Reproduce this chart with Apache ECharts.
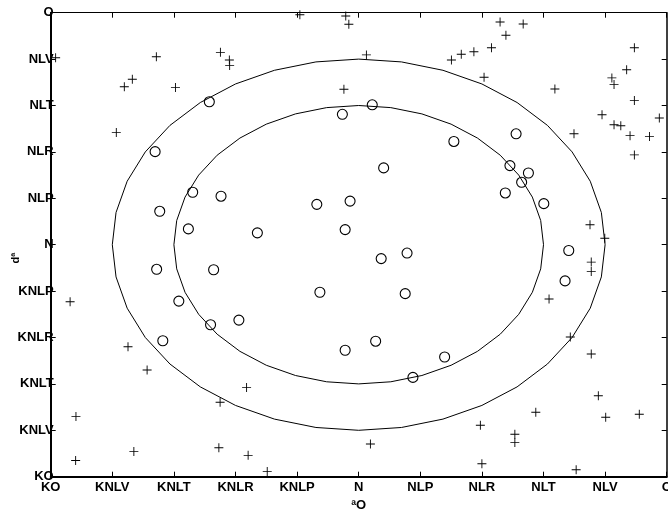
<!DOCTYPE html>
<html><head><meta charset="utf-8">
<script src="https://cdn.jsdelivr.net/npm/echarts@6/dist/echarts.min.js"></script>
<style>html,body{margin:0;padding:0;background:#fff}#c{width:668px;height:510px}</style>
</head><body><div id="c"></div>
<script>
// tick labels (as shown in the reference)
const tickLabels = ['KO','KNLV','KNLT','KNLR','KNLP','N','NLP','NLR','NLT','NLV','O'];
const xName = 'ªO';
const yName = 'dª';

// circle markers
const circleX = [-0.485,0.044,-0.053,-0.661,0.309,0.511,0.081,0.491,0.551,0.529,-0.539,-0.447,0.476,-0.136,-0.028,0.601,-0.646,-0.553,-0.044,-0.329,0.682,0.157,0.073,-0.656,-0.471,0.670,-0.126,0.151,-0.584,-0.389,-0.481,-0.636,0.055,-0.044,0.279,0.176];
const circleY = [0.616,0.603,0.562,0.401,0.445,0.478,0.331,0.341,0.309,0.269,0.226,0.209,0.223,0.174,0.188,0.177,0.144,0.068,0.065,0.051,-0.025,-0.036,-0.060,-0.106,-0.108,-0.156,-0.205,-0.211,-0.243,-0.325,-0.345,-0.414,-0.416,-0.455,-0.484,-0.572];

// plus markers
const plusX = [-0.984,-0.657,-0.449,-0.420,-0.419,-0.761,-0.735,-0.595,-0.787,
  -0.191,-0.042,-0.032,0.025,-0.048,
  0.301,0.333,0.374,0.431,0.459,0.534,0.478,0.407,0.637,0.699,0.895,0.870,0.822,0.829,0.895,0.976,0.790,0.829,0.851,0.881,0.944,0.895,
  0.751,0.799,0.755,0.755,0.618,0.687,0.755,
  0.778,0.575,0.802,0.911,0.395,0.507,0.507,0.400,0.706,
  0.038,-0.297,
  -0.937,-0.749,-0.687,-0.364,-0.450,-0.918,-0.730,-0.454,-0.359,-0.919];
const plusY = [0.806,0.810,0.829,0.796,0.772,0.681,0.713,0.678,0.484,
  0.991,0.986,0.950,0.818,0.670,
  0.796,0.821,0.832,0.849,0.960,0.951,0.903,0.722,0.671,0.478,0.849,0.754,0.719,0.691,0.622,0.546,0.560,0.517,0.513,0.470,0.466,0.387,
  0.086,0.028,-0.075,-0.116,-0.234,-0.398,-0.471,
  -0.651,-0.722,-0.744,-0.731,-0.778,-0.817,-0.853,-0.944,-0.970,
  -0.859,-0.978,
  -0.246,-0.440,-0.540,-0.615,-0.679,-0.740,-0.891,-0.875,-0.908,-0.930];

// reference rings
const ringRadii = [0.6, 0.8];
const ringSteps = 36;

function ring(r){
  const pts=[];
  for(let i=0;i<=ringSteps;i++){
    const a=2*Math.PI*i/ringSteps;
    pts.push([r*Math.cos(a), r*Math.sin(a)]);
  }
  return pts;
}
const fmt = v => tickLabels[Math.round((v+1)/0.2)] || '';
const lblFont = {fontFamily:'Liberation Sans, Arial, sans-serif', fontWeight:'bold', fontSize:13, color:'#000'};

const chart = echarts.init(document.getElementById('c'), null, {renderer:'canvas'});
const baseAxis = {type:'value', min:-1, max:1, interval:0.2, splitLine:{show:false}};
chart.setOption({
  animation:false,
  backgroundColor:'#fff',
  grid:{left:50.7, right:1.3, top:12.7, bottom:33.3, containLabel:false, outerBoundsMode:'none'},
  xAxis:[
    Object.assign({}, baseAxis, {position:'bottom',
      axisLine:{onZero:false, lineStyle:{color:'#000', width:2}},
      axisTick:{inside:true, length:5, lineStyle:{color:'#000', width:1}},
      axisLabel:Object.assign({formatter:fmt, margin:4, showMinLabel:true, showMaxLabel:true, hideOverlap:false}, lblFont),
      name:xName, nameLocation:'middle', nameGap:20,
      nameTextStyle:{fontFamily:'Liberation Sans, Arial, sans-serif', fontWeight:'bold', fontSize:13, color:'#000'}}),
    Object.assign({}, baseAxis, {position:'top',
      axisLine:{onZero:false, lineStyle:{color:'#000', width:1}},
      axisTick:{inside:true, length:5, lineStyle:{color:'#000', width:1}},
      axisLabel:{show:false}})
  ],
  yAxis:[
    Object.assign({}, baseAxis, {position:'left',
      axisLine:{onZero:false, lineStyle:{color:'#000', width:2}},
      axisTick:{inside:true, length:5, lineStyle:{color:'#000', width:1}},
      axisLabel:Object.assign({formatter:fmt, margin:-3, showMinLabel:true, showMaxLabel:true, hideOverlap:false}, lblFont)}),
    Object.assign({}, baseAxis, {position:'right',
      axisLine:{onZero:false, lineStyle:{color:'#000', width:1.5}},
      axisTick:{inside:true, length:5, lineStyle:{color:'#000', width:1}},
      axisLabel:{show:false}})
  ],
  graphic:[{type:'text', x:16, y:258, rotation:Math.PI/2,
    style:{text:yName, font:'bold 11px Liberation Sans, Arial, sans-serif', fill:'#000', textAlign:'center', textVerticalAlign:'middle'}}],
  series:[
    ...ringRadii.map(r=>({type:'line', data:ring(r), symbol:'none', smooth:false,
      lineStyle:{color:'#000', width:1}, silent:true, z:2})),
    {type:'scatter', data:circleX.map((x,i)=>[x,circleY[i]]), symbol:'circle', symbolSize:10,
      itemStyle:{color:'rgba(0,0,0,0)', borderColor:'#000', borderWidth:1.1, opacity:1}, z:3},
    {type:'scatter', data:plusX.map((x,i)=>[x,plusY[i]]),
      symbol:'path://M4.5,0h1v10h-1zM0,4.5h10v1h-10z', symbolSize:9,
      itemStyle:{color:'#000', opacity:1}, z:3}
  ]
});
</script></body></html>
